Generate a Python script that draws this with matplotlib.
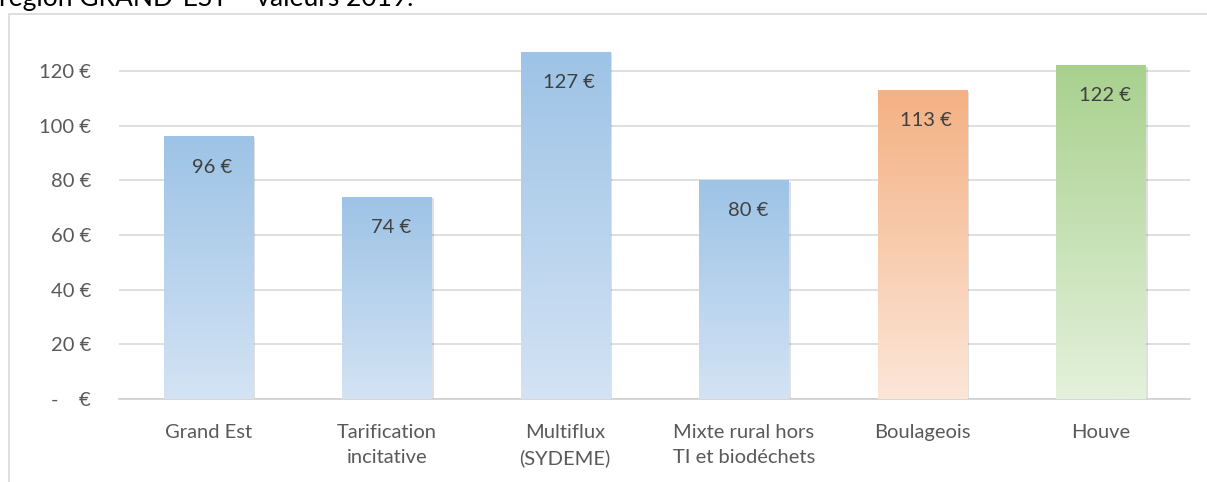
import numpy as np
import matplotlib
matplotlib.use('Agg')
import matplotlib.pyplot as plt
from matplotlib.colors import LinearSegmentedColormap
from matplotlib.patches import Rectangle

# data
categories = ['Grand Est', 'Tarification\nincitative', 'Multiflux\n(SYDEME)',
              'Mixte rural hors\nTI et biodéchets', 'Boulageois', 'Houve']
values = [96, 74, 127, 80, 113, 122]
y_ticks = [0, 20, 40, 60, 80, 100, 120]
title_text = 'région GRAND-EST – valeurs 2019.'

# gradient (top colour, bottom colour) per bar
blue = ('#9DC3E6', '#D3E3F4')
orange = ('#F4B183', '#FCE6D8')
green = ('#A9D18E', '#E4F1DC')
bar_colors = [blue, blue, blue, blue, orange, green]

plt.rcParams['font.family'] = ['Lato', 'DejaVu Sans']

W, H = 1207, 482
fig = plt.figure(figsize=(W / 100, H / 100), dpi=100)

# chart frame (continues past right and bottom edges)
fig.patches.append(Rectangle((9 / W, -0.1), 1.2, 1.1 - 14 / H,
                             transform=fig.transFigure, fill=False,
                             edgecolor='#D9D9D9', linewidth=1.2))
# heading of the page, cut by the top edge as in the source
fig.text(-1 / W, 1 - 6 / H, title_text, fontsize=19, color='black',
         ha='left', va='baseline')

ax = fig.add_axes([119 / W, (H - 399) / H, (1190 - 119) / W, (399 - 43.5) / H])
x = np.arange(len(categories))

bars = ax.bar(x, values, width=0.5, color='none', zorder=3)
for b, (top, bottom), v in zip(bars, bar_colors, values):
    x0 = b.get_x()
    w = b.get_width()
    # soft shadow
    ax.add_patch(Rectangle((x0 + 0.012, 0), w, v - 0.6, facecolor='#000000',
                           alpha=0.12, linewidth=0, zorder=2))
    cmap = LinearSegmentedColormap.from_list('g', [bottom, top])
    grad = np.linspace(0, 1, 256).reshape(-1, 1)
    im = ax.imshow(grad, cmap=cmap, origin='lower', aspect='auto',
                   extent=[x0, x0 + w, 0, v], zorder=3)
    im.set_clip_path(b)
    ax.annotate(f'{v} €', (x0 + w / 2, v), xytext=(3, -22),
                textcoords='offset points', ha='center', va='center',
                fontsize=14.5, color='#404040', zorder=5)

ax.set_xlim(-0.5, len(categories) - 0.5)
ax.set_ylim(0, 130)

ax.set_yticks(y_ticks)
ax.set_yticklabels(['-    €' if t == 0 else f'{t} €' for t in y_ticks])
ax.set_xticks(x)
ax.set_xticklabels(categories, linespacing=1.55)
ax.tick_params(axis='both', length=0, labelsize=14.5, labelcolor='#595959')
ax.tick_params(axis='y', pad=20)
ax.tick_params(axis='x', pad=18)

ax.grid(axis='y', color='#D9D9D9', linewidth=1.2, zorder=0)
ax.set_axisbelow(True)
for s in ['top', 'right', 'left']:
    ax.spines[s].set_visible(False)
ax.spines['bottom'].set_color('#D0D0D0')
ax.spines['bottom'].set_linewidth(1.2)

fig.savefig('out.png', dpi=100)
